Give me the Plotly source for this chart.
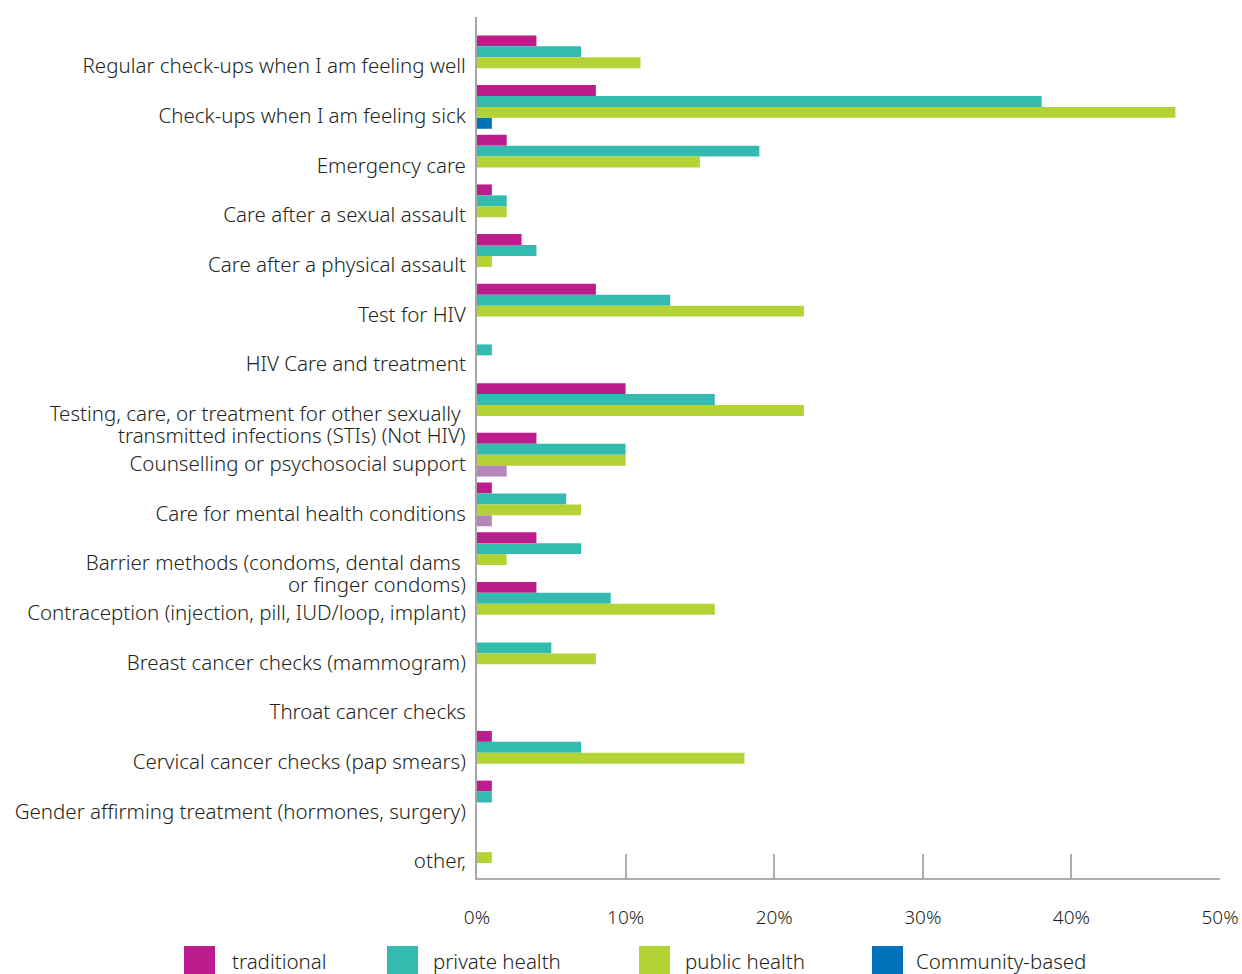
import plotly.graph_objects as go

categories = [
    "Regular check-ups when I am feeling well",
    "Check-ups when I am feeling sick",
    "Emergency care",
    "Care after a sexual assault",
    "Care after a physical assault",
    "Test for HIV",
    "HIV Care and treatment",
    "Testing, care, or treatment for other sexually ",
    "Counselling or psychosocial support",
    "Care for mental health conditions",
    "Barrier methods (condoms, dental dams ",
    "Contraception (injection, pill, IUD/loop, implant)",
    "Breast cancer checks (mammogram)",
    "Throat cancer checks",
    "Cervical cancer checks (pap smears)",
    "Gender affirming treatment (hormones, surgery)",
    "other,",
]
# second line of the two wrapped labels
second_lines = {
    "Testing, care, or treatment for other sexually ": "transmitted infections (STIs) (Not HIV)",
    "Barrier methods (condoms, dental dams ": "or finger condoms)",
}

traditional = [4, 8, 2, 1, 3, 8, 0, 10, 4, 1, 4, 4, 0, 0, 1, 1, 0]
private_health = [7, 38, 19, 2, 4, 13, 1, 16, 10, 6, 7, 9, 5, 0, 7, 1, 0]
public_health = [11, 47, 15, 2, 1, 22, 0, 22, 10, 7, 2, 16, 8, 0, 18, 0, 1]
community_based = [0, 1, 0, 0, 0, 0, 0, 0, 2, 1, 0, 0, 0, 0, 0, 0, 0]

x_ticks = [0, 10, 20, 30, 40, 50]
x_ticktext = ["0%", "10%", "20%", "30%", "40%", "50%"]

series_names = ["traditional", "private health", "public health", "Community-based"]
colors = ["#BC1C8C", "#33BBAF", "#B3D335", "#0072BC"]
purple = "#B386BC"

# community bars for counselling / mental health drawn in light purple
comm_colors = [colors[3]] * len(categories)
comm_colors[8] = purple
comm_colors[9] = purple

W = 0.22
offsets = [-0.62, -0.40, -0.18, 0.04]
values = [traditional, private_health, public_health, community_based]

fig = go.Figure()
for i, (name, vals) in enumerate(zip(series_names, values)):
    fig.add_trace(go.Bar(
        y=categories, x=vals, orientation="h", name=name,
        marker=dict(color=comm_colors if i == 3 else colors[i], line_width=0),
        width=W, offset=offsets[i], showlegend=False,
    ))

FONT = "Noto Sans"
TXT = "#231F20"
FS = 20.5
WT = 300

fig.update_layout(
    width=1242, height=974,
    margin=dict(l=477, r=22, t=17, b=96),
    paper_bgcolor="white", plot_bgcolor="white",
    barmode="overlay",
    font=dict(family=FONT, size=FS, color=TXT, weight=WT),
    xaxis=dict(
        range=[0, 50], tickvals=x_ticks, ticktext=x_ticktext,
        showgrid=False, zeroline=False, automargin=False,
        showline=True, linecolor="#ADADAD", linewidth=1.5,
        ticks="inside", ticklen=24, tickcolor="#ADADAD", tickwidth=1.5,
        ticklabelstandoff=21,
        tickfont=dict(family=FONT, size=19, color=TXT, weight=WT),
    ),
    yaxis=dict(
        type="category", categoryarray=categories,
        range=[16.34, -0.99], automargin=False,
        showgrid=False, zeroline=False,
        showline=True, linecolor="#A6A6A6", linewidth=2,
        ticks="", ticklabelstandoff=5,
        tickfont=dict(family=FONT, size=FS, color=TXT, weight=WT),
    ),
)

for first, second in second_lines.items():
    fig.add_annotation(xref="paper", yref="y", x=0, y=first, xshift=-9, yshift=-21,
                       text=second, showarrow=False, xanchor="right", yanchor="middle",
                       font=dict(family=FONT, size=FS, color=TXT, weight=WT))

# custom legend with large swatches
def px_x(p):
    return (p - 477) / 743

def px_y(p):
    return (878 - p) / 861

sw_x = [184, 387, 639, 872]
tx_x = [230, 431, 683, 914]
for name, col, sx, tx in zip(series_names, colors, sw_x, tx_x):
    fig.add_shape(type="rect", xref="paper", yref="paper",
                  x0=px_x(sx), x1=px_x(sx + 31), y0=px_y(974), y1=px_y(946),
                  fillcolor=col, line_width=0)
    fig.add_annotation(xref="paper", yref="paper", x=px_x(tx), y=px_y(961),
                       text=name, showarrow=False, xanchor="left", yanchor="middle",
                       font=dict(family=FONT, size=20.5, color=TXT, weight=WT))

fig.write_html("out.html", config={"displayModeBar": False, "responsive": False},
               post_script="document.body.style.margin='0';document.body.style.overflow='hidden';")
